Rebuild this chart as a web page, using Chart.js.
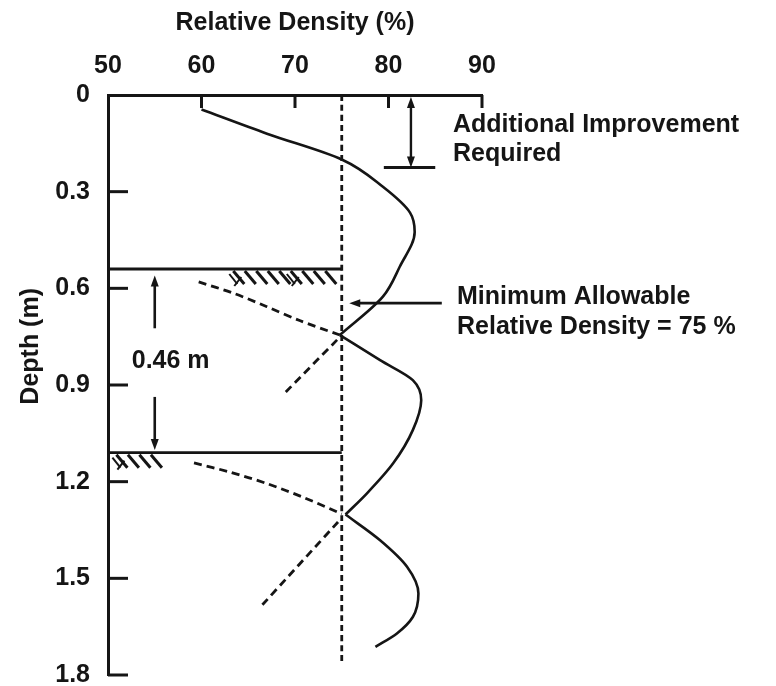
<!DOCTYPE html>
<html>
<head>
<meta charset="utf-8">
<title>Relative Density vs Depth</title>
<script src="https://cdn.jsdelivr.net/npm/chart.js@4"></script>
<style>
  html, body { margin: 0; padding: 0; background: #fff; }
</style>
</head>
<body>
<canvas id="chart" width="776" height="686"></canvas>
<script>
// tick labels
const densityTicks = [50, 60, 70, 80, 90];
const depthTicks = [0, 0.3, 0.6, 0.9, 1.2, 1.5, 1.8];

// measured profile, split at the two cusps on the 75 % line
const profile1Density = [60, 67, 75, 79.4, 82.3, 82.8, 81.2, 79.4, 74.8];
const profile1Depth   = [0.045, 0.12, 0.2, 0.285, 0.365, 0.425, 0.533, 0.626, 0.745];
const profile2Density = [74.8, 79.1, 82.6, 83.5, 82.6, 80.5, 77.7, 75.4];
const profile2Depth   = [0.745, 0.823, 0.885, 0.947, 1.04, 1.143, 1.236, 1.302];
const profile3Density = [75.4, 79.1, 82, 83.2, 82.6, 80.9, 78.6];
const profile3Depth   = [1.302, 1.382, 1.465, 1.547, 1.62, 1.671, 1.713];

// dashed influence curves of each compaction pass
const pass1UpperDensity = [59.7, 63.4, 67, 70.5, 74.8];
const pass1UpperDepth   = [0.58, 0.615, 0.657, 0.7, 0.745];
const pass1LowerDensity = [74.5, 68.9];
const pass1LowerDepth   = [0.76, 0.925];
const pass2UpperDensity = [59.2, 63, 67, 71, 75];
const pass2UpperDepth   = [1.142, 1.17, 1.206, 1.25, 1.3];
const pass2LowerDensity = [74.6, 66.3];
const pass2LowerDepth   = [1.325, 1.589];

// minimum allowable relative density
const minDensity = 75;
const minLineDepth = [0, 1.765];

// layer surfaces (depth m), drawn from the axis to the 75 % line
const layerDepths = [0.54, 1.11];

const ink = '#151515';
const FONT = '"Liberation Sans", Arial, sans-serif';

function zip(xs, ys) {
  return xs.map((x, i) => ({ x: x, y: ys[i] }));
}

function solid(xs, ys) {
  // depth is monotone along each piece, so interpolate along y
  return {
    data: zip(xs, ys), borderColor: ink, borderWidth: 2.6, showLine: true, pointRadius: 0,
    indexAxis: 'y', cubicInterpolationMode: 'monotone'
  };
}

function dashed(xs, ys, dash) {
  return { data: zip(xs, ys), borderColor: ink, borderWidth: 2.8, borderDash: dash, tension: 0.3, showLine: true, pointRadius: 0 };
}

const datasets = [
  solid(profile1Density, profile1Depth),
  solid(profile2Density, profile2Depth),
  solid(profile3Density, profile3Depth),
  dashed(pass1UpperDensity, pass1UpperDepth, [8, 5]),
  dashed(pass1LowerDensity, pass1LowerDepth, [8, 5]),
  dashed(pass2UpperDensity, pass2UpperDepth, [8, 5]),
  dashed(pass2LowerDensity, pass2LowerDepth, [8, 5]),
  dashed([minDensity, minDensity], minLineDepth, [6, 4])
];
layerDepths.forEach(d => {
  datasets.push({ data: zip([50, minDensity], [d, d]), borderColor: ink, borderWidth: 2.8, showLine: true, pointRadius: 0 });
});

// annotation marks, placed in data units
const hatches = [
  { from: 63.4, to: 74.6, depth: 0.54, symbols: [0, 5] },
  { from: 50.9, to: 56.2, depth: 1.11, symbols: [0] }
];

function arrowHead(ctx, x, y, dx, dy) {
  // dx, dy: unit direction the arrow points to
  const len = 11, half = 4;
  ctx.beginPath();
  ctx.moveTo(x, y);
  ctx.lineTo(x - dx * len - dy * half, y - dy * len + dx * half);
  ctx.lineTo(x - dx * len + dy * half, y - dy * len - dx * half);
  ctx.closePath();
  ctx.fill();
}

function line(ctx, x1, y1, x2, y2) {
  ctx.beginPath();
  ctx.moveTo(x1, y1);
  ctx.lineTo(x2, y2);
  ctx.stroke();
}

const annotate = {
  id: 'annotate',
  afterDraw(chart) {
    const ctx = chart.ctx;
    const xs = chart.scales.x, ys = chart.scales.y;
    const px = v => xs.getPixelForValue(v);
    const py = v => ys.getPixelForValue(v);
    ctx.save();
    ctx.strokeStyle = ink;
    ctx.fillStyle = ink;
    ctx.lineCap = 'butt';

    // inward tick marks
    ctx.lineWidth = 3;
    densityTicks.slice(1).forEach(v => line(ctx, px(v), py(0), px(v), py(0) + 13));
    depthTicks.slice(1).forEach(v => line(ctx, px(50), py(v), px(50) + 20, py(v)));

    // ground hatching under layer surfaces
    hatches.forEach(h => {
      const y0 = py(h.depth) + 2;
      let i = 0;
      for (let x = px(h.from); x <= px(h.to) - 10; x += 11.5, i++) {
        ctx.lineWidth = 3;
        line(ctx, x, y0, x + 11, y0 + 13);
        if (h.symbols.includes(i)) {
          ctx.lineWidth = 2;
          line(ctx, x - 4, y0 + 3, x + 4, y0 + 13);
          line(ctx, x + 1, y0 + 15, x + 8, y0 + 6);
        }
      }
    });

    // additional improvement required
    ctx.lineWidth = 2.4;
    const ax = px(82.4), aTop = py(0) + 2, aBot = py(0.225);
    line(ctx, ax, aTop + 8, ax, aBot - 8);
    arrowHead(ctx, ax, aTop, 0, -1);
    arrowHead(ctx, ax, aBot, 0, 1);
    ctx.lineWidth = 3;
    line(ctx, px(79.5), aBot, px(85), aBot);

    // minimum allowable pointer
    ctx.lineWidth = 2.6;
    const my = py(0.646);
    line(ctx, px(85.7), my, px(75.8) + 8, my);
    arrowHead(ctx, px(75.8), my, -1, 0);

    // layer thickness arrows
    const lx = px(55);
    line(ctx, lx, py(0.724), lx, py(0.56) + 8);
    arrowHead(ctx, lx, py(0.56), 0, -1);
    line(ctx, lx, py(0.937), lx, py(1.102) - 8);
    arrowHead(ctx, lx, py(1.102), 0, 1);

    // texts
    ctx.font = 'bold 25px ' + FONT;
    ctx.textBaseline = 'middle';
    ctx.textAlign = 'center';
    ctx.fillText('0.46 m', px(56.7), py(0.825));
    ctx.textAlign = 'left';
    ctx.fillText('Additional Improvement', xs.right - 29, py(0.094));
    ctx.fillText('Required', xs.right - 29, py(0.184));
    ctx.fillText('Minimum Allowable', xs.right - 25, py(0.627));
    ctx.fillText('Relative Density = 75 %', xs.right - 25, py(0.72));

    // vertical axis title
    ctx.translate(31, py(0.78));
    ctx.rotate(-Math.PI / 2);
    ctx.textAlign = 'center';
    ctx.fillText('Depth (m)', 0, 0);
    ctx.restore();
  }
};

new Chart(document.getElementById('chart'), {
  type: 'scatter',
  data: { datasets: datasets },
  options: {
    responsive: false,
    animation: false,
    devicePixelRatio: 1,
    layout: { padding: { left: 0, top: 0, right: 294, bottom: 11 } },
    plugins: { legend: { display: false }, tooltip: { enabled: false } },
    scales: {
      x: {
        type: 'linear',
        position: 'top',
        min: 50,
        max: 90,
        afterBuildTicks: s => { s.ticks = densityTicks.map(v => ({ value: v })); },
        afterFit: s => { s.height = 95; },
        grid: { display: false, drawTicks: false },
        border: { display: true, color: ink, width: 3 },
        ticks: { padding: 14, color: ink, font: { family: FONT, size: 25, weight: 'bold' } },
        title: {
          display: true,
          text: 'Relative Density (%)',
          color: ink,
          padding: { top: 8, bottom: 0 },
          font: { family: FONT, size: 25, weight: 'bold' }
        }
      },
      y: {
        type: 'linear',
        reverse: true,
        min: 0,
        max: 1.8,
        afterBuildTicks: s => { s.ticks = depthTicks.map(v => ({ value: v })); },
        afterFit: s => { s.width = 108; s.paddingTop = 0; s.paddingBottom = 0; },
        grid: { display: false, drawTicks: false },
        border: { display: true, color: ink, width: 3 },
        ticks: {
          padding: 18,
          color: ink,
          font: { family: FONT, size: 25, weight: 'bold' },
          callback: v => String(v)
        }
      }
    }
  },
  plugins: [annotate]
});
</script>
</body>
</html>
